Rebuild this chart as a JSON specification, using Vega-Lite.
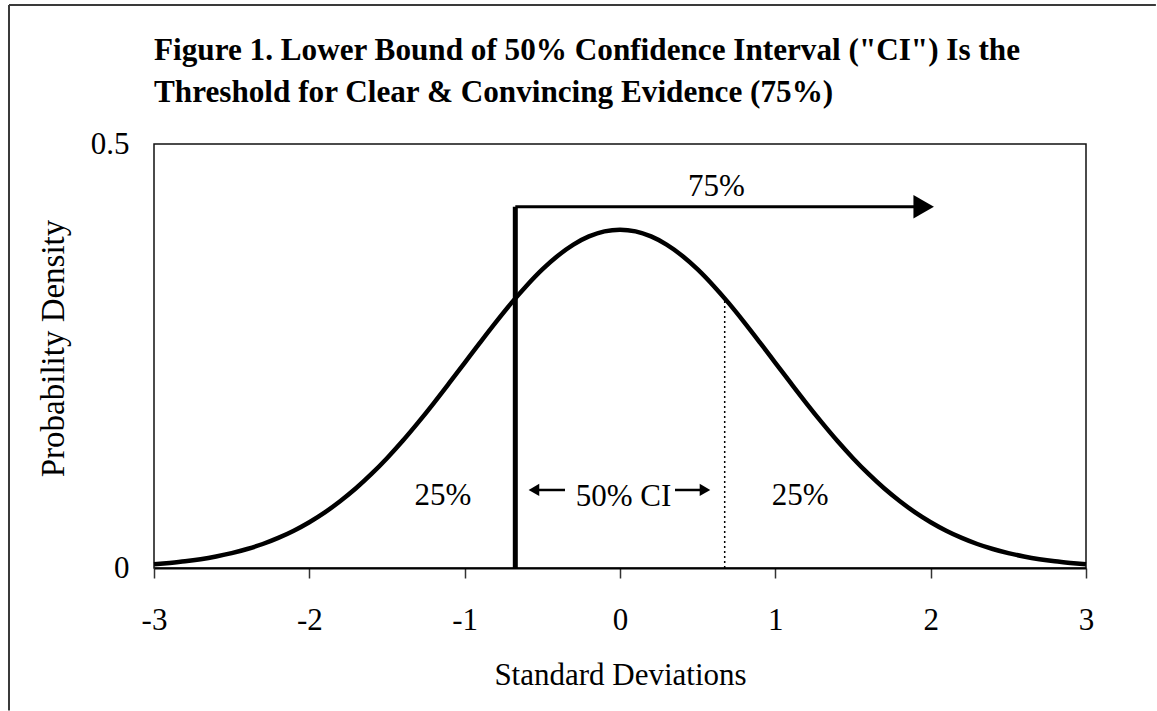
{
  "$schema": "https://vega.github.io/schema/vega-lite/v6.json",
  "width": 932,
  "height": 424,
  "autosize": {"type": "none"},
  "padding": {"left": 154, "top": 144, "right": 71, "bottom": 143},
  "background": "white",
  "config": {
    "font": "Liberation Serif",
    "view": {"stroke": "#111111", "strokeWidth": 1.5},
    "axis": {
      "labelFont": "Liberation Serif",
      "titleFont": "Liberation Serif",
      "labelFontSize": 31,
      "titleFontSize": 31,
      "labelColor": "black",
      "titleColor": "black",
      "titleFontWeight": "normal",
      "grid": false
    }
  },
  "title": {
    "text": ["Figure 1. Lower Bound of 50% Confidence Interval (\"CI\") Is the", "Threshold for Clear & Convincing Evidence (75%)"],
    "anchor": "start",
    "frame": "group",
    "font": "Liberation Serif",
    "fontSize": 31.2,
    "fontWeight": "bold",
    "color": "black",
    "lineHeight": 42,
    "baseline": "alphabetic",
    "offset": -129
  },
  "datasets": {
    "curve": [
      {"x": -3.0, "y": 0.0044}, {"x": -2.9, "y": 0.0060}, {"x": -2.8, "y": 0.0079}, {"x": -2.7, "y": 0.0104},
      {"x": -2.6, "y": 0.0136}, {"x": -2.5, "y": 0.0175}, {"x": -2.4, "y": 0.0224}, {"x": -2.3, "y": 0.0283},
      {"x": -2.2, "y": 0.0355}, {"x": -2.1, "y": 0.0440}, {"x": -2.0, "y": 0.0540}, {"x": -1.9, "y": 0.0656},
      {"x": -1.8, "y": 0.0790}, {"x": -1.7, "y": 0.0940}, {"x": -1.6, "y": 0.1109}, {"x": -1.5, "y": 0.1295},
      {"x": -1.4, "y": 0.1497}, {"x": -1.3, "y": 0.1714}, {"x": -1.2, "y": 0.1942}, {"x": -1.1, "y": 0.2179},
      {"x": -1.0, "y": 0.2420}, {"x": -0.9, "y": 0.2661}, {"x": -0.8, "y": 0.2897}, {"x": -0.7, "y": 0.3123},
      {"x": -0.6, "y": 0.3332}, {"x": -0.5, "y": 0.3521}, {"x": -0.4, "y": 0.3683}, {"x": -0.3, "y": 0.3814},
      {"x": -0.2, "y": 0.3910}, {"x": -0.1, "y": 0.3970}, {"x": 0.0, "y": 0.3989}, {"x": 0.1, "y": 0.3970},
      {"x": 0.2, "y": 0.3910}, {"x": 0.3, "y": 0.3814}, {"x": 0.4, "y": 0.3683}, {"x": 0.5, "y": 0.3521},
      {"x": 0.6, "y": 0.3332}, {"x": 0.7, "y": 0.3123}, {"x": 0.8, "y": 0.2897}, {"x": 0.9, "y": 0.2661},
      {"x": 1.0, "y": 0.2420}, {"x": 1.1, "y": 0.2179}, {"x": 1.2, "y": 0.1942}, {"x": 1.3, "y": 0.1714},
      {"x": 1.4, "y": 0.1497}, {"x": 1.5, "y": 0.1295}, {"x": 1.6, "y": 0.1109}, {"x": 1.7, "y": 0.0940},
      {"x": 1.8, "y": 0.0790}, {"x": 1.9, "y": 0.0656}, {"x": 2.0, "y": 0.0540}, {"x": 2.1, "y": 0.0440},
      {"x": 2.2, "y": 0.0355}, {"x": 2.3, "y": 0.0283}, {"x": 2.4, "y": 0.0224}, {"x": 2.5, "y": 0.0175},
      {"x": 2.6, "y": 0.0136}, {"x": 2.7, "y": 0.0104}, {"x": 2.8, "y": 0.0079}, {"x": 2.9, "y": 0.0060},
      {"x": 3.0, "y": 0.0044}
    ],
    "frameTop": [{"x": -3.9335, "x2": 3.45, "y": 0.664}],
    "frameLeft": [{"x": -3.9335, "y": 0.664, "y2": -0.168}],
    "lowerBound": [{"x": -0.674, "y": 0, "y2": 0.426}],
    "upperBound": [{"x": 0.674, "y": 0, "y2": 0.318}],
    "arrowLine": [{"x": -0.674, "x2": 1.95, "y": 0.426}],
    "arrowHead": [{"x": 1.955, "y": 0.426}],
    "ciArrowLines": [
      {"x": -0.55, "x2": -0.354, "y": 0.092},
      {"x": 0.354, "x2": 0.545, "y": 0.092}
    ],
    "ciArrowHeads": [
      {"x": -0.554, "y": 0.092, "dir": "left"},
      {"x": 0.547, "y": 0.092, "dir": "right"}
    ],
    "labels": [
      {"x": 0.62, "y": 0.449, "label": "75%"},
      {"x": -1.14, "y": 0.085, "label": "25%"},
      {"x": 1.16, "y": 0.085, "label": "25%"},
      {"x": 0.023, "y": 0.084, "label": "50% CI"}
    ]
  },
  "encoding": {
    "x": {
      "field": "x",
      "type": "quantitative",
      "scale": {"domain": [-3, 3], "nice": false, "zero": false},
      "axis": {
        "title": "Standard Deviations",
        "values": [-3, -2, -1, 0, 1, 2, 3],
        "labelExpr": "'' + datum.value",
        "domainColor": "black",
        "domainWidth": 2,
        "tickColor": "#333333",
        "tickWidth": 1.5,
        "tickSize": 10,
        "labelPadding": 27,
        "titlePadding": 25,
        "labelFlush": false,
        "labelOverlap": false
      }
    },
    "y": {
      "field": "y",
      "type": "quantitative",
      "scale": {"domain": [0, 0.5], "nice": false, "zero": false},
      "axis": {
        "title": "Probability Density",
        "titleFontSize": 33,
        "titleY": 204,
        "values": [0, 0.5],
        "labelExpr": "'' + datum.value",
        "ticks": false,
        "tickSize": 0,
        "domain": false,
        "labelPadding": 25,
        "titlePadding": 20,
        "labelOverlap": false
      }
    }
  },
  "layer": [
    {
      "data": {"name": "frameTop"},
      "mark": {"type": "rule", "color": "#3a3a3a", "strokeWidth": 2},
      "encoding": {"x2": {"field": "x2"}}
    },
    {
      "data": {"name": "frameLeft"},
      "mark": {"type": "rule", "color": "#3a3a3a", "strokeWidth": 2},
      "encoding": {"y2": {"field": "y2"}}
    },
    {
      "data": {"name": "curve"},
      "mark": {"type": "line", "color": "black", "strokeWidth": 4.5, "interpolate": "monotone"}
    },
    {
      "data": {"name": "lowerBound"},
      "mark": {"type": "rule", "color": "black", "strokeWidth": 5},
      "encoding": {"y2": {"field": "y2"}}
    },
    {
      "data": {"name": "upperBound"},
      "mark": {"type": "rule", "color": "black", "strokeWidth": 1.5, "strokeDash": [2, 3]},
      "encoding": {"y2": {"field": "y2"}}
    },
    {
      "data": {"name": "arrowLine"},
      "mark": {"type": "rule", "color": "black", "strokeWidth": 3},
      "encoding": {"x2": {"field": "x2"}}
    },
    {
      "data": {"name": "arrowHead"},
      "mark": {"type": "point", "shape": "triangle-right", "filled": true, "color": "black", "size": 560, "opacity": 1}
    },
    {
      "data": {"name": "ciArrowLines"},
      "mark": {"type": "rule", "color": "black", "strokeWidth": 2.5},
      "encoding": {"x2": {"field": "x2"}}
    },
    {
      "data": {"name": "ciArrowHeads"},
      "mark": {"type": "point", "filled": true, "color": "black", "size": 150, "opacity": 1},
      "encoding": {
        "shape": {
          "field": "dir",
          "type": "nominal",
          "scale": {"domain": ["left", "right"], "range": ["triangle-left", "triangle-right"]},
          "legend": null
        }
      }
    },
    {
      "data": {"name": "labels"},
      "mark": {"type": "text", "font": "Liberation Serif", "fontSize": 31, "color": "black", "align": "center", "baseline": "middle"},
      "encoding": {"text": {"field": "label"}}
    }
  ]
}
